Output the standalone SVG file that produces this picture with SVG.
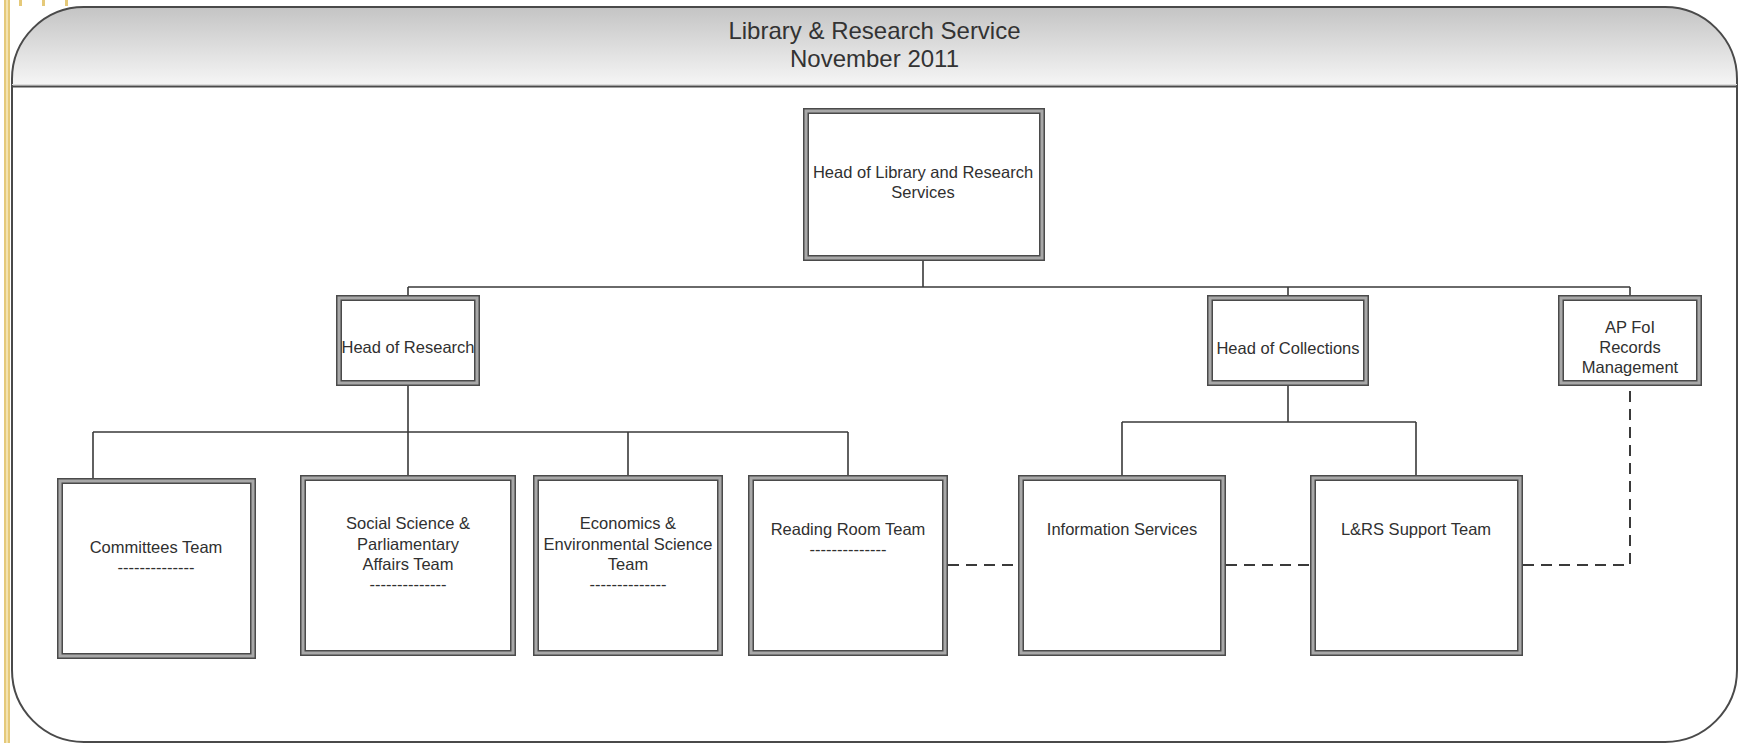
<svg xmlns="http://www.w3.org/2000/svg" width="1743" height="743" viewBox="0 0 1743 743">
<defs>
<linearGradient id="hdr" x1="0" y1="0" x2="0" y2="1">
<stop offset="0" stop-color="#c4c4c4"/>
<stop offset="1" stop-color="#f6f6f6"/>
</linearGradient>
<style>
text{font-family:"Liberation Sans",Arial,sans-serif;fill:#303030;text-anchor:middle}
.t{font-size:16.5px}
.title{font-size:24px;fill:#333}
.b1{fill:#fff;stroke:#4a4a4a;stroke-width:6}
.b2{fill:none;stroke:#a8a8a8;stroke-width:3}
.c{fill:none;stroke:#3a3a3a;stroke-width:1.6}
.d{fill:none;stroke:#3a3a3a;stroke-width:2;stroke-dasharray:11 7}
.gold{fill:#e5c979}
</style>
</defs>
<rect width="1743" height="743" fill="#fff"/>
<g id="decor">
<rect class="gold" x="4" y="0" width="6" height="743"/>
<rect x="6" y="0" width="2" height="743" fill="#f3e3b0"/>
<rect class="gold" x="19" y="0" width="3" height="6"/>
<rect class="gold" x="42" y="0" width="3" height="6"/>
<rect class="gold" x="65" y="0" width="3" height="6"/>
</g>
<g id="frame">
<path d="M12,86 V79 A72,72 0 0 1 84,7 H1665 A72,72 0 0 1 1737,79 V86 Z" fill="url(#hdr)"/>
<rect x="12" y="7" width="1725" height="735" rx="72" ry="72" fill="none" stroke="#4a4a4a" stroke-width="2"/>
<line x1="12" y1="84.5" x2="1737" y2="84.5" stroke="#dcdcdc" stroke-width="1"/>
<line x1="12" y1="86.5" x2="1737" y2="86.5" stroke="#4a4a4a" stroke-width="2"/>
<text class="title" x="874.5" y="39">Library &amp; Research Service</text>
<text class="title" x="874.5" y="67">November 2011</text>
</g>
<g id="connectors">
<path class="c" d="M923,261 V287 M408,287 H1630 M408,287 V295 M1288,287 V295 M1630,287 V295"/>
<path class="c" d="M408,386 V475 M93,432 H848 M93,432 V478 M628,432 V475 M848,432 V475"/>
<path class="c" d="M1288,386 V422 M1122,422 H1416 M1122,422 V475 M1416,422 V475"/>
<path class="d" d="M948,565 H1018 M1226,565 H1310 M1523,565 H1630 V386"/>
</g>
<g id="head-lrs">
<rect class="b1" x="806" y="111" width="236" height="147"/>
<rect class="b2" x="806" y="111" width="236" height="147"/>
<text class="t" x="923" y="178">Head of Library and Research</text>
<text class="t" x="923" y="198">Services</text>
</g>
<g id="head-research">
<rect class="b1" x="339" y="298" width="138" height="85"/>
<rect class="b2" x="339" y="298" width="138" height="85"/>
<text class="t" x="408" y="353">Head of Research</text>
</g>
<g id="head-collections">
<rect class="b1" x="1210" y="298" width="156" height="85"/>
<rect class="b2" x="1210" y="298" width="156" height="85"/>
<text class="t" x="1288" y="354">Head of Collections</text>
</g>
<g id="ap-foi">
<rect class="b1" x="1561" y="298" width="138" height="85"/>
<rect class="b2" x="1561" y="298" width="138" height="85"/>
<text class="t" x="1630" y="333">AP FoI</text>
<text class="t" x="1630" y="353">Records</text>
<text class="t" x="1630" y="373">Management</text>
</g>
<g id="committees">
<rect class="b1" x="60" y="481" width="193" height="175"/>
<rect class="b2" x="60" y="481" width="193" height="175"/>
<text class="t" x="156" y="553">Committees Team</text>
<text class="t" x="156" y="573">--------------</text>
</g>
<g id="social-science">
<rect class="b1" x="303" y="478" width="210" height="175"/>
<rect class="b2" x="303" y="478" width="210" height="175"/>
<text class="t" x="408" y="529">Social Science &amp;</text>
<text class="t" x="408" y="550">Parliamentary</text>
<text class="t" x="408" y="570">Affairs Team</text>
<text class="t" x="408" y="590">--------------</text>
</g>
<g id="economics">
<rect class="b1" x="536" y="478" width="184" height="175"/>
<rect class="b2" x="536" y="478" width="184" height="175"/>
<text class="t" x="628" y="529">Economics &amp;</text>
<text class="t" x="628" y="550">Environmental Science</text>
<text class="t" x="628" y="570">Team</text>
<text class="t" x="628" y="590">--------------</text>
</g>
<g id="reading-room">
<rect class="b1" x="751" y="478" width="194" height="175"/>
<rect class="b2" x="751" y="478" width="194" height="175"/>
<text class="t" x="848" y="535">Reading Room Team</text>
<text class="t" x="848" y="555">--------------</text>
</g>
<g id="information-services">
<rect class="b1" x="1021" y="478" width="202" height="175"/>
<rect class="b2" x="1021" y="478" width="202" height="175"/>
<text class="t" x="1122" y="535">Information Services</text>
</g>
<g id="lrs-support">
<rect class="b1" x="1313" y="478" width="207" height="175"/>
<rect class="b2" x="1313" y="478" width="207" height="175"/>
<text class="t" x="1416" y="535">L&amp;RS Support Team</text>
</g>
</svg>
